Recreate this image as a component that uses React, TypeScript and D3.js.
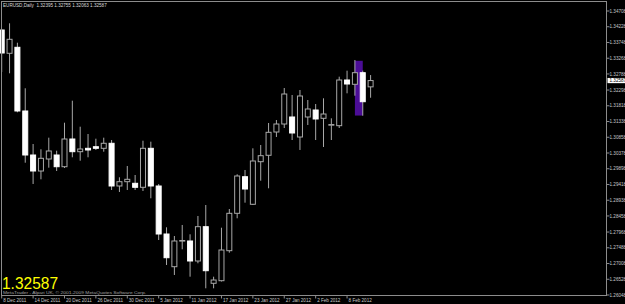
import React from "react";
import * as d3 from "d3";

const dates = [
  "2011-12-08", "2011-12-09", "2011-12-12", "2011-12-13", "2011-12-14", "2011-12-15", "2011-12-16",
  "2011-12-19", "2011-12-20", "2011-12-21", "2011-12-22", "2011-12-23", "2011-12-26", "2011-12-27",
  "2011-12-28", "2011-12-29", "2011-12-30", "2012-01-02", "2012-01-03", "2012-01-04", "2012-01-05",
  "2012-01-06", "2012-01-09", "2012-01-10", "2012-01-11", "2012-01-12", "2012-01-13", "2012-01-16",
  "2012-01-17", "2012-01-18", "2012-01-19", "2012-01-20", "2012-01-23", "2012-01-24", "2012-01-25",
  "2012-01-26", "2012-01-27", "2012-01-30", "2012-01-31", "2012-02-01", "2012-02-02", "2012-02-03",
  "2012-02-06", "2012-02-07", "2012-02-08", "2012-02-09", "2012-02-10", "2012-02-13",
];

const opens = [
  1.34129, 1.33418, 1.33601, 1.31659, 1.30317, 1.29829, 1.30195, 1.30317, 1.2996, 1.30805,
  1.30418, 1.30521, 1.3057, 1.30521, 1.30674, 1.29372, 1.29503, 1.29454, 1.29332, 1.30521,
  1.29372, 1.27908, 1.26911, 1.277, 1.27695, 1.27085, 1.28131, 1.26405, 1.26484, 1.27399,
  1.28539, 1.29655, 1.28814, 1.30113, 1.30308, 1.31018, 1.31262, 1.31476, 1.30866, 1.31476,
  1.31689, 1.31436, 1.31232, 1.31211, 1.32604, 1.32473, 1.32827, 1.32395,
];
const highs = [
  1.34159, 1.34333, 1.33741, 1.32351, 1.30652, 1.30491, 1.30845, 1.30448, 1.31302, 1.31973,
  1.3118, 1.30957, 1.30814, 1.30845, 1.30774, 1.29637, 1.29982, 1.29707, 1.30753, 1.30723,
  1.29433, 1.28112, 1.27847, 1.28183, 1.27899, 1.28457, 1.28792, 1.26606, 1.281, 1.2867,
  1.29729, 1.2986, 1.30521, 1.30622, 1.31293, 1.31384, 1.3236, 1.32147, 1.32299, 1.31994,
  1.31872, 1.32046, 1.31436, 1.32705, 1.32888, 1.33214, 1.32888, 1.32755,
];
const lows = [
  1.32848, 1.32808, 1.31619, 1.30082, 1.29433, 1.29576, 1.2993, 1.29829, 1.29921, 1.30247,
  1.30143, 1.30247, 1.3047, 1.30418, 1.2925, 1.29189, 1.2925, 1.2925, 1.29219, 1.28997,
  1.27725, 1.26963, 1.26658, 1.27442, 1.26606, 1.27015, 1.26252, 1.26252, 1.2646, 1.27338,
  1.28387, 1.28863, 1.28792, 1.29533, 1.29302, 1.30866, 1.3114, 1.30774, 1.3047, 1.31232,
  1.30774, 1.30561, 1.30774, 1.3114, 1.32198, 1.32125, 1.31515, 1.32063,
];
const closes = [
  1.33427, 1.33845, 1.31659, 1.30317, 1.29829, 1.30216, 1.30439, 1.2996, 1.30805, 1.30418,
  1.305, 1.3047, 1.30521, 1.30674, 1.29372, 1.29503, 1.29576, 1.29332, 1.30521, 1.29372,
  1.27908, 1.27185, 1.27695, 1.2771, 1.27085, 1.28131, 1.26789, 1.26505, 1.2742, 1.28539,
  1.29677, 1.2928, 1.30134, 1.30296, 1.31009, 1.31262, 1.32177, 1.30988, 1.32116, 1.3172,
  1.31415, 1.31567, 1.31245, 1.32604, 1.32482, 1.32827, 1.31942, 1.32587,
];

const priceTicks = [
  1.34708, 1.34228, 1.33748, 1.33268, 1.32788, 1.32298, 1.31818, 1.31338, 1.30858, 1.30378,
  1.29898, 1.29418, 1.28938, 1.28458, 1.27968, 1.27488, 1.27008, 1.26528, 1.26048,
];
const dateTickIndex = [0, 4, 8, 12, 16, 20, 24, 28, 32, 36, 40, 44];

const symbolName = "EURUSD,Daily";
const lastPrice = 1.32587;
const highlightFrom = 45;
const highlightTo = 46;
const highlightHigh = 1.3319;
const highlightLow = 1.3152;
const copyrightText = "MetaTrader - Alpari UK, \u00a9 2001-2009 MetaQuotes Software Corp.";

const W = 625;
const H = 304;
const FRAME = { left: 1, top: 1, right: 606, bottom: 295 };
const SMALL_FONT = "'Liberation Sans', Arial, sans-serif";
const LINE_COLOR = "#a8a8a8";

export default function App() {
  const x = d3.scaleLinear().domain([0, dates.length - 1]).range([1.7, 370.6]);
  const y = d3.scaleLinear().domain([1.26048, 1.34708]).range([FRAME.bottom, 11]);
  const parse = d3.timeParse("%Y-%m-%d");
  const fmtDate = d3.timeFormat("%-d %b %Y");
  const fmtPrice = (v: number) => v.toFixed(5);

  const lastO = opens[opens.length - 1];
  const lastH = highs[highs.length - 1];
  const lastL = lows[lows.length - 1];
  const title = `${symbolName}  ${fmtPrice(lastO)} ${fmtPrice(lastH)} ${fmtPrice(lastL)} ${fmtPrice(lastPrice)}`;

  const bodyW = 5;

  return (
    <svg
      width={W}
      height={H}
      viewBox={`0 0 ${W} ${H}`}
      style={{ position: "fixed", left: 0, top: 0, background: "#000", display: "block" }}
    >
      <rect x={0} y={0} width={W} height={H} fill="#000" />

      {/* highlight rectangle (background object) */}
      <rect
        x={x(highlightFrom)}
        y={y(highlightHigh)}
        width={x(highlightTo) - x(highlightFrom)}
        height={y(highlightLow) - y(highlightHigh)}
        fill="#4b0d96"
      />

      {/* candles */}
      {dates.map((d, i) => {
        const o = opens[i];
        const c = closes[i];
        const bull = c >= o;
        const cx = x(i);
        const top = y(Math.max(o, c));
        const bot = y(Math.min(o, c));
        return (
          <g key={d}>
            <line
              x1={cx}
              x2={cx}
              y1={y(highs[i])}
              y2={y(lows[i])}
              stroke={LINE_COLOR}
              strokeWidth={1}
            />
            <rect
              x={cx - bodyW / 2}
              y={top}
              width={bodyW}
              height={Math.max(0.6, bot - top)}
              fill={bull ? "#000" : "#fff"}
              stroke={bull ? LINE_COLOR : "#fff"}
              strokeWidth={1}
            />
          </g>
        );
      })}

      {/* frame */}
      <rect
        x={FRAME.left + 0.5}
        y={FRAME.top + 0.5}
        width={FRAME.right - FRAME.left}
        height={FRAME.bottom - FRAME.top}
        fill="none"
        stroke="#8c8c8c"
        strokeWidth={1}
      />

      {/* right price axis */}
      {priceTicks.map((v) => (
        <g key={v}>
          <line x1={FRAME.right + 0.5} x2={FRAME.right + 3.5} y1={y(v)} y2={y(v)} stroke="#8c8c8c" />
          <text
            x={FRAME.right + 3.5}
            y={y(v)}
            dy="0.35em"
            fontFamily={SMALL_FONT}
            fontSize={4.6}
            fill="#c8c8c8"
          >
            {fmtPrice(v)}
          </text>
        </g>
      ))}

      {/* current price box */}
      <rect x={FRAME.right + 1.5} y={y(lastPrice) - 2.6} width={W - FRAME.right} height={5.2} fill="#fff" />
      <text
        x={FRAME.right + 3.5}
        y={y(lastPrice)}
        dy="0.35em"
        fontFamily={SMALL_FONT}
        fontSize={4.6}
        fill="#000"
      >
        {fmtPrice(lastPrice)}
      </text>

      {/* bottom time axis */}
      {dateTickIndex.map((i) => (
        <g key={i}>
          <line
            x1={x(i)}
            x2={x(i)}
            y1={FRAME.bottom + 0.5}
            y2={FRAME.bottom + 3.5}
            stroke="#8c8c8c"
          />
          <text x={x(i) + 1.5} y={FRAME.bottom + 6.8} fontFamily={SMALL_FONT} fontSize={4.6} fill="#c8c8c8">
            {fmtDate(parse(dates[i]) as Date)}
          </text>
        </g>
      ))}

      {/* title */}
      <text x={3} y={7.4} fontFamily={SMALL_FONT} fontSize={4.6} fill="#d8d8d8" style={{ whiteSpace: "pre" }}>
        {title}
      </text>

      {/* big last price */}
      <text
        x={2}
        y={288.6}
        fontFamily="'Liberation Sans', Arial, sans-serif"
        fontSize={17}
        fill="#ffff00"
        textLength={56}
        lengthAdjust="spacingAndGlyphs"
      >
        {fmtPrice(lastPrice)}
      </text>

      {/* copyright */}
      <text
        x={3}
        y={293.6}
        fontFamily={SMALL_FONT}
        fontSize={4}
        fill="#a0a0a0"
        textLength={143}
        lengthAdjust="spacingAndGlyphs"
      >
        {copyrightText}
      </text>
    </svg>
  );
}
